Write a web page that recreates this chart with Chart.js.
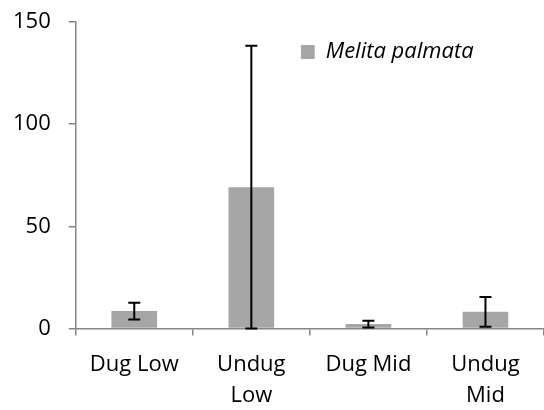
<!DOCTYPE html>
<html>
<head>
<meta charset="utf-8">
<script src="https://cdn.jsdelivr.net/npm/chart.js@4.4.1/dist/chart.umd.min.js"></script>
<style>
  html, body { margin: 0; padding: 0; background: #fff; }
  #wrap { width: 544px; height: 410px; }
</style>
</head>
<body>
<div id="wrap"><canvas id="chart"></canvas></div>
<script>
const categories = ["Dug Low", ["Undug", "Low"], "Dug Mid", ["Undug", "Mid"]];
const seriesName = "Melita palmata";
const means = [8.5, 69.1, 2.1, 8.1];
const errors = [4.1, 69.3, 1.6, 7.3];
const yTicks = [0, 50, 100, 150];

const axisColor = "#868686";
const barColor = "#a6a6a6";

Chart.defaults.font.family = "'Open Sans', sans-serif";
Chart.defaults.font.size = 22;
Chart.defaults.color = "#000";

// error bars, drawn from the scales
const errorBars = {
    id: "errorBars",
    afterDatasetsDraw(chart) {
        const { ctx, scales: { x, y } } = chart;
        ctx.save();
        ctx.strokeStyle = "#000";
        ctx.lineWidth = 2;
        means.forEach((m, i) => {
            const px = x.getPixelForValue(i);
            const top = y.getPixelForValue(m + errors[i]);
            const bot = y.getPixelForValue(Math.max(0, m - errors[i]));
            ctx.beginPath();
            ctx.moveTo(px, top);
            ctx.lineTo(px, bot);
            ctx.moveTo(px - 6, top);
            ctx.lineTo(px + 6, top);
            ctx.moveTo(px - 6, bot);
            ctx.lineTo(px + 6, bot);
            ctx.stroke();
        });
        ctx.restore();
    }
};

// put the legend inside the plot, upper right
const legendSpot = {
    id: "legendSpot",
    afterLayout(chart) {
        const lg = chart.legend;
        if (!lg) return;
        const w = lg.width;
        lg.left = chart.chartArea.left + 225;
        lg.right = lg.left + w;
        lg.top = chart.chartArea.top + 19;
    }
};

new Chart(document.getElementById("chart"), {
    type: "bar",
    data: {
        labels: categories,
        datasets: [{
            label: seriesName,
            data: means,
            backgroundColor: barColor,
            borderWidth: 0,
            barPercentage: 0.39,
            categoryPercentage: 1
        }]
    },
    options: {
        responsive: true,
        maintainAspectRatio: false,
        animation: false,
        layout: { padding: { left: -5, top: 22, right: 0, bottom: -15 } },
        plugins: {
            tooltip: { enabled: false },
            legend: {
                position: "chartArea",
                align: "start",
                labels: {
                    boxWidth: 14,
                    boxHeight: 14,
                    padding: 0,
                    font: { style: "italic", size: 22 }
                }
            }
        },
        scales: {
            x: {
                grid: {
                    drawOnChartArea: false,
                    tickLength: 7,
                    lineWidth: 1.5,
                    color: (c) => c.index === categories.length ? "transparent" : axisColor
                },
                border: { color: axisColor, width: 1.5 },
                ticks: { padding: 14, font: { lineHeight: 1.4 } }
            },
            y: {
                min: 0,
                max: 150,
                afterBuildTicks: (s) => { s.ticks = yTicks.map(v => ({ value: v })); },
                // tick padding would otherwise push the plot top down
                afterFit: (s) => { s.paddingTop = 0; s.paddingBottom = 0; },
                grid: {
                    drawOnChartArea: false,
                    tickLength: 7,
                    lineWidth: 1.5,
                    color: axisColor
                },
                border: { color: axisColor, width: 1.5 },
                ticks: { padding: 18 }
            }
        }
    },
    plugins: [errorBars, legendSpot]
});
</script>
</body>
</html>
